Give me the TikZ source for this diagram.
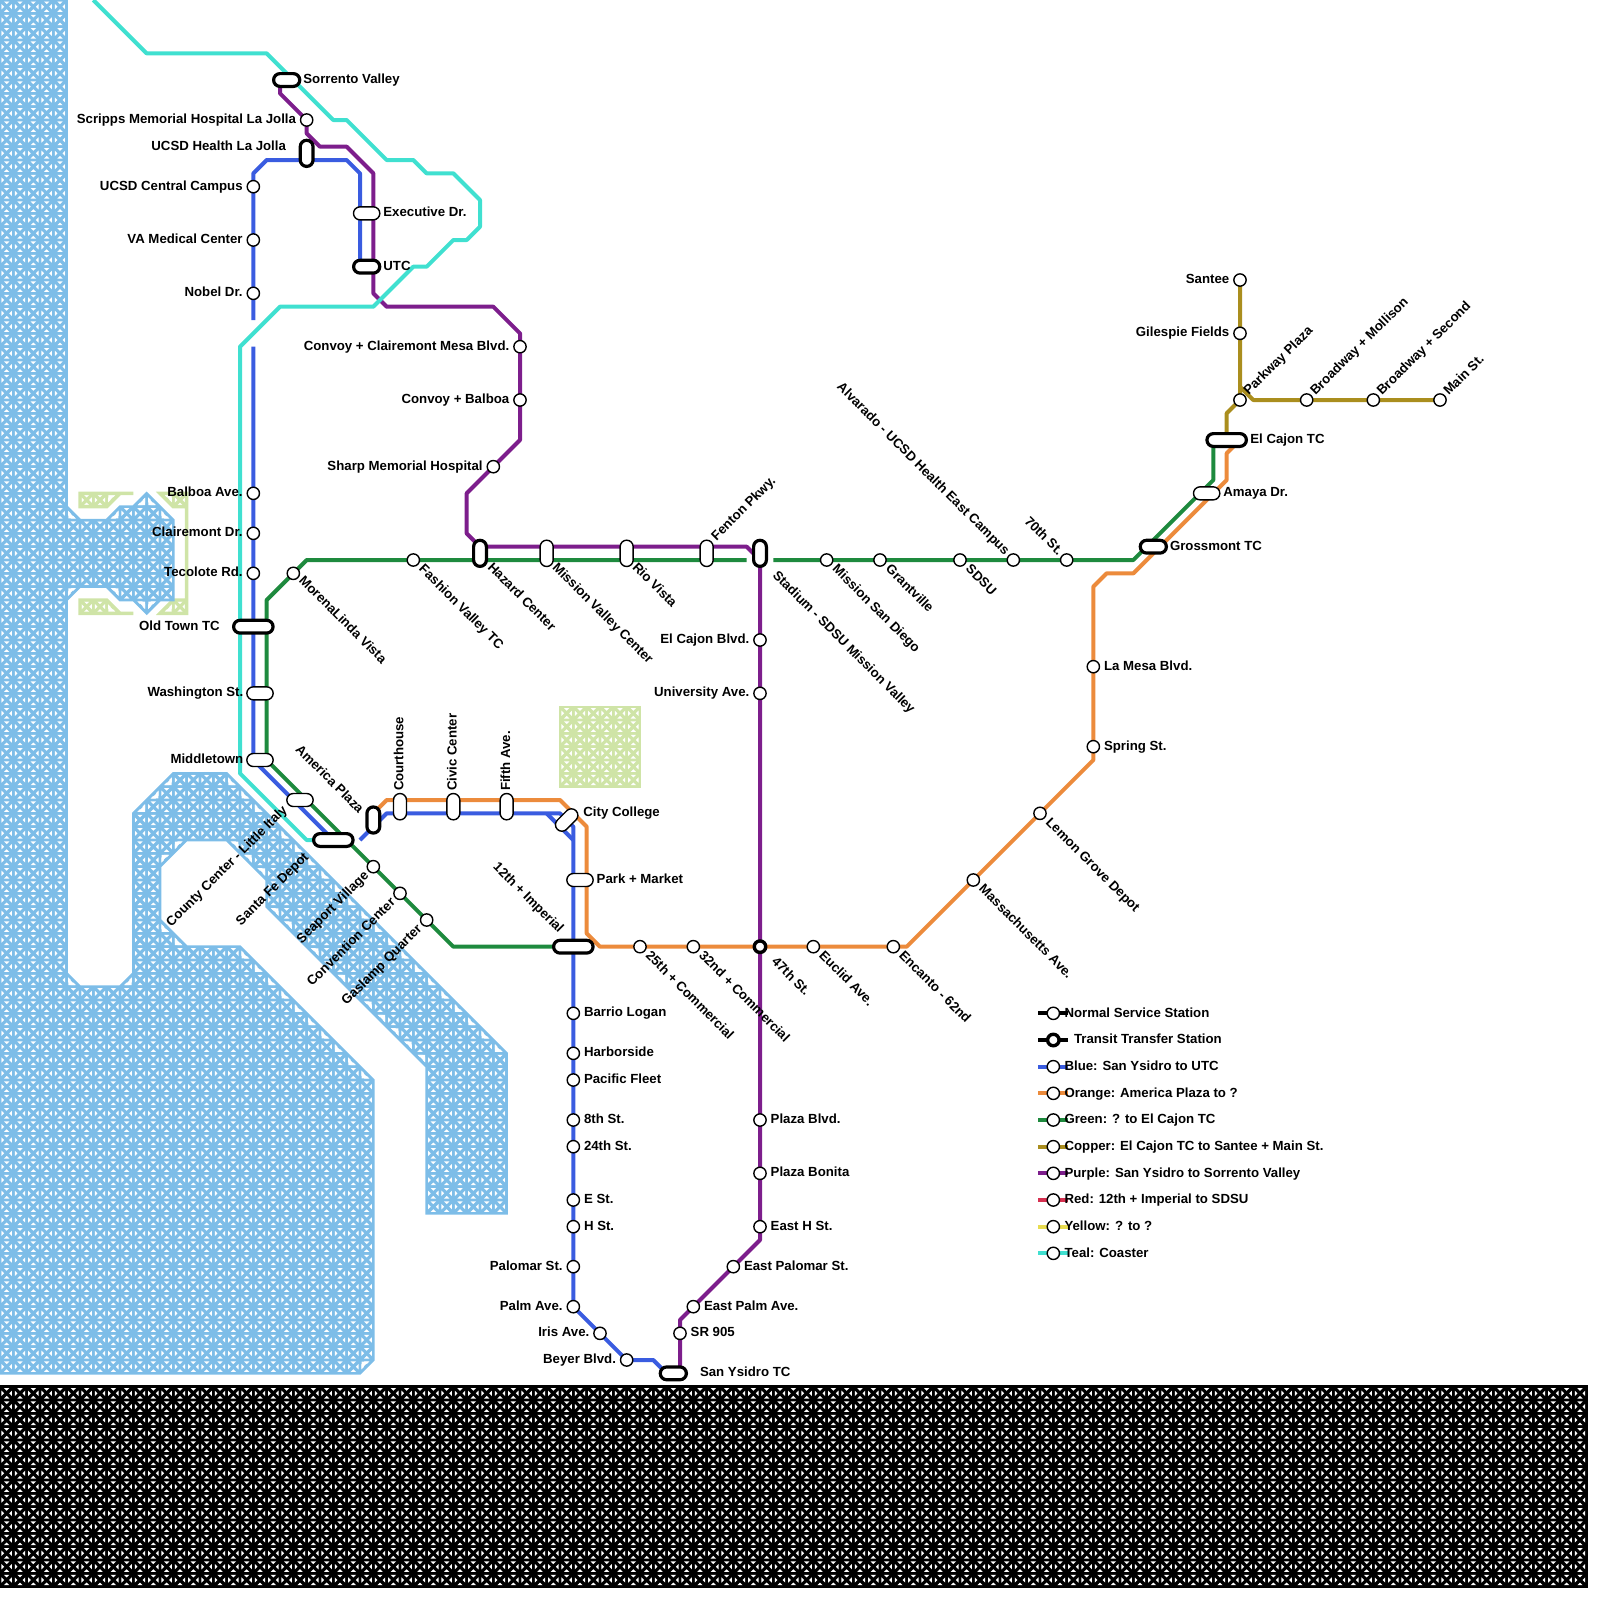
\documentclass[tikz,border=0pt]{standalone}
\usepackage{fontspec}
\setmainfont{Liberation Sans}
\pgfdeclarelayer{water}
\pgfdeclarelayer{lines}
\pgfsetlayers{water,lines,main}
\definecolor{cWater}{RGB}{125,189,232}
\definecolor{cLand}{RGB}{207,228,167}
\definecolor{cBlue}{RGB}{58,92,224}
\definecolor{cOrange}{RGB}{236,139,60}
\definecolor{cGreen}{RGB}{30,138,62}
\definecolor{cCopper}{RGB}{170,142,30}
\definecolor{cPurple}{RGB}{125,30,140}
\definecolor{cRed}{RGB}{214,48,80}
\definecolor{cYellow}{RGB}{232,220,80}
\definecolor{cTeal}{RGB}{64,224,208}
\tikzset{
  x=0.133333cm,y=-0.133333cm,
  stn/.style={circle,draw=black,fill=white,minimum size=0.123cm,inner sep=0pt,line width=0.014cm},
  xfer/.style={circle,draw=black,fill=white,minimum size=0.115cm,inner sep=0pt,line width=0.034cm},
  pillN/.style={rectangle,draw=black,fill=white,rounded corners=0.065cm,minimum height=0.13cm,minimum width=0.13cm+#1*0.13333cm,inner sep=0pt,line width=0.014cm},
  pillT/.style={rectangle,draw=black,fill=white,rounded corners=0.064cm,minimum height=0.128cm,minimum width=0.128cm+#1*0.13333cm,inner sep=0pt,line width=0.032cm},
  stlabel/.style={inner sep=0pt,text height=0.096cm,text depth=0.028cm,font=\fontsize{3.765pt}{4.6pt}\selectfont\bfseries},
  metro/.style={line width=0.04cm,line join=round,line cap=butt},
  halftri/.style={fill=white,draw=none},
  waterline/.style={draw=cWater,line width=0.025cm,line join=miter},
  landline/.style={draw=cLand,line width=0.034cm,line join=miter},
}
\newcommand\tiles[4]{%
  \foreach \i in {#1,...,#2}{\foreach \j in {#3,...,#4}{%
    \fill[white,shift={(\i+.5,\j+.5)}]
      (-.2,-.39)--(.2,-.39)--(0,-.19)--cycle
      (-.2,.39)--(.2,.39)--(0,.19)--cycle
      (-.39,-.2)--(-.39,.2)--(-.19,0)--cycle
      (.39,-.2)--(.39,.2)--(.19,0)--cycle;
  }}}
\newcommand\halfs[7]{%
  \foreach \k in {1,...,#3}{%
    \pgfmathsetmacro\ci{#1+(\k-1)*(#4)+.5}%
    \pgfmathsetmacro\cj{#2+(\k-1)*(#5)+.5}%
    \fill[halftri] (\ci+.38*#6,\cj+.38*#7)--(\ci+.38*#6,\cj-.14*#7)--(\ci-.14*#6,\cj+.38*#7)--cycle;
  }}
\newcommand\lab[6]{\node[stlabel,anchor=#4,rotate=#5] (l-#1) at ([xshift={(#2)*0.01cm},yshift={-1*(#3)*0.01cm}]#1.center) {#6};}
\newcommand\R[3][0]{\lab{#2}{#3}{#1}{west}{0}}
\newcommand\legrow[4]{%
  \coordinate (la#1) at (77.85,#2);\coordinate (lb#1) at (80.1,#2);
  \begin{pgfonlayer}{lines}\draw[metro,#3] (la#1)--(lb#1);\end{pgfonlayer}
  \node[stn] (lc#1) at (79,#2) {};
  \node[stlabel,anchor=west] (lt#1) at ([xshift=0.105cm,yshift=-0.005cm]lc#1.center) {#4};}
\begin{document}
\begin{tikzpicture}
\useasboundingbox (0,0) rectangle (120,120);
\begin{pgfonlayer}{water}
\def\landA{(6,37)--(10,37)--(9,37)--(8,38)--(6,38)--cycle}
\def\landB{(12,37)--(14,37)--(14,46)--(12,46)--(13,45)--(14,45)--(14,38)--(13,38)--cycle}
\def\landC{(6,45)--(8,45)--(9,46)--(10,46)--(6,46)--cycle}
\fill[cLand] \landA \landB \landC;
\begin{scope}\clip \landA \landB \landC;
  \tiles{6}{9}{37}{37}\tiles{6}{9}{45}{45}\tiles{12}{13}{37}{45}
\end{scope}
\halfs{8}{37}{1}{0}{0}{-1}{-1}\halfs{12}{37}{1}{0}{0}{1}{-1}\halfs{8}{45}{1}{0}{0}{-1}{1}\halfs{12}{45}{1}{0}{0}{1}{1}
\draw[landline] \landA \landB \landC;
\fill[cLand] (42,53) rectangle (48,59);
\tiles{42}{47}{53}{58}
\draw[landline,line width=0.02cm] (42,53) rectangle (48,59);
\def\seaMain{(0,0)--(5,0)--(5,73)--(6,74)--(9,74)--(10,73)--(10,61)--(13,58)--(17,58)--(38,79)--(38,91)--(32,91)--(32,80)--(20,68)--(20,66)--(17,63)--(14,63)--(12,65)--(12,69)--(14,71)--(18,71)--(28,81)--(28,102)--(27,103)--(0,103)--cycle}
\fill[cWater] \seaMain;
\begin{scope}\clip \seaMain;
  \tiles{0}{4}{0}{102}\tiles{5}{27}{58}{102}\tiles{28}{37}{69}{90}
\end{scope}
\halfs{5}{73}{1}{0}{0}{-1}{1}\halfs{9}{73}{1}{0}{0}{1}{1}
\halfs{10}{60}{3}{1}{-1}{1}{1}\halfs{17}{58}{21}{1}{1}{-1}{1}
\halfs{20}{68}{12}{1}{1}{1}{-1}\halfs{17}{63}{3}{1}{1}{1}{-1}
\halfs{13}{63}{2}{-1}{1}{-1}{-1}\halfs{12}{69}{2}{1}{1}{-1}{1}
\halfs{18}{71}{10}{1}{1}{-1}{1}\halfs{27}{102}{1}{0}{0}{-1}{-1}
\draw[waterline] \seaMain;
\def\seaBay{(5,38)--(6,39)--(8,39)--(9,38)--(10,38)--(11,37)--(13,39)--(13,45)--(12,45)--(11,46)--(10,45)--(9,45)--(8,44)--(6,44)--(5,45)--cycle}
\fill[cWater] \seaBay;
\begin{scope}\clip \seaBay;
  \tiles{5}{12}{37}{45}
\end{scope}
\halfs{5}{38}{1}{0}{0}{-1}{1}\halfs{8}{38}{1}{0}{0}{1}{1}\halfs{10}{37}{1}{0}{0}{1}{1}
\halfs{11}{37}{2}{1}{1}{-1}{1}\halfs{11}{45}{1}{0}{0}{-1}{-1}\halfs{10}{45}{1}{0}{0}{1}{-1}
\halfs{8}{44}{1}{0}{0}{1}{-1}\halfs{5}{44}{1}{0}{0}{-1}{-1}
\draw[waterline] \seaBay;
\filldraw[black,line width=0.025cm] (0,104) rectangle (119,119);
\tiles{0}{118}{104}{118}
\end{pgfonlayer}

% stations
\node[pillT=1] (sorrento) at (21.5,6) {};
\node[stn] (scripps) at (23,9) {};
\node[pillT=1,rotate=90] (ucsdhealth) at (23,11.5) {};
\node[stn] (central) at (19,14) {};
\node[stn] (va) at (19,18) {};
\node[stn] (nobel) at (19,22) {};
\node[pillN=1] (exec) at (27.5,16) {};
\node[pillT=1] (utc) at (27.5,20) {};
\node[stn] (convoya) at (39,26) {};
\node[stn] (convoyb) at (39,30) {};
\node[stn] (sharp) at (37,35) {};
\node[stn] (balboa) at (19,37) {};
\node[stn] (clair) at (19,40) {};
\node[stn] (teco) at (19,43) {};
\node[stn] (morena) at (22,43) {};
\node[pillT=2] (oldtown) at (19,47) {};
\node[pillN=1] (wash) at (19.5,52) {};
\node[pillN=1] (middle) at (19.5,57) {};
\node[pillN=1] (county) at (22.5,60) {};
\node[pillT=2] (santafe) at (25,63) {};
\node[pillT=1,rotate=90] (america) at (28,61.5) {};
\node[pillN=1,rotate=90] (court) at (30,60.5) {};
\node[pillN=1,rotate=90] (civic) at (34,60.5) {};
\node[pillN=1,rotate=90] (fifth) at (38,60.5) {};
\node[pillN=1,rotate=45] (college) at (42.5,61.5) {};
\node[pillN=1] (park) at (43.5,66) {};
\node[stn] (seaport) at (28,65) {};
\node[stn] (conv) at (30,67) {};
\node[stn] (gaslamp) at (32,69) {};
\node[pillT=2] (imperial) at (43,71) {};
\node[stn] (fashion) at (31,42) {};
\node[pillT=1,rotate=90] (hazard) at (36,41.5) {};
\node[pillN=1,rotate=90] (mvc) at (41,41.5) {};
\node[pillN=1,rotate=90] (rio) at (47,41.5) {};
\node[pillN=1,rotate=90] (fenton) at (53,41.5) {};
\node[pillT=1,rotate=90] (stadium) at (57,41.5) {};
\node[stn] (msd) at (62,42) {};
\node[stn] (grant) at (66,42) {};
\node[stn] (sdsu) at (72,42) {};
\node[stn] (alvarado) at (76,42) {};
\node[stn] (seventy) at (80,42) {};
\node[pillT=1] (gross) at (86.5,41) {};
\node[pillN=1] (amaya) at (90.5,37) {};
\node[pillT=2] (elcajon) at (92,33) {};
\node[stn] (parkway) at (93,30) {};
\node[stn] (santee) at (93,21) {};
\node[stn] (gilespie) at (93,25) {};
\node[stn] (mollison) at (98,30) {};
\node[stn] (second) at (103,30) {};
\node[stn] (mainst) at (108,30) {};
\node[stn] (lamesa) at (82,50) {};
\node[stn] (spring) at (82,56) {};
\node[stn] (lemon) at (78,61) {};
\node[stn] (mass) at (73,66) {};
\node[stn] (encanto) at (67,71) {};
\node[stn] (euclid) at (61,71) {};
\node[xfer] (fortyseven) at (57,71) {};
\node[stn] (thirtytwo) at (52,71) {};
\node[stn] (twentyfive) at (48,71) {};
\node[stn] (ecblvd) at (57,48) {};
\node[stn] (univ) at (57,52) {};
\node[stn] (plazab) at (57,84) {};
\node[stn] (bonita) at (57,88) {};
\node[stn] (easth) at (57,92) {};
\node[stn] (epalomar) at (55,95) {};
\node[stn] (epalm) at (52,98) {};
\node[stn] (sr) at (51,100) {};
\node[pillT=1] (ysidro) at (50.5,103) {};
\node[stn] (barrio) at (43,76) {};
\node[stn] (harbor) at (43,79) {};
\node[stn] (pacific) at (43,81) {};
\node[stn] (eighth) at (43,84) {};
\node[stn] (twentyfour) at (43,86) {};
\node[stn] (est) at (43,90) {};
\node[stn] (hst) at (43,92) {};
\node[stn] (palomar) at (43,95) {};
\node[stn] (palm) at (43,98) {};
\node[stn] (iris) at (45,100) {};
\node[stn] (beyer) at (47,102) {};

% free line ends
\coordinate (blueTop) at (19,24);
\coordinate (blueLow) at (19,26);
\coordinate (blueAm) at (27,63);
\coordinate (greenL) at (56,42);
\coordinate (greenR) at (58,42);
\coordinate (blueStub) at (41,61);
\coordinate (tealStart) at (7,0);

\begin{pgfonlayer}{lines}
\draw[metro,cOrange] (93,33)--(92,34)--(92,36)--(85,43)--(83,43)--(82,44)--(lamesa.center)--(spring.center)--(82,57)--(lemon.center)--(mass.center)--(68,71)--(encanto.center)--(euclid.center)--(fortyseven.center)--(thirtytwo.center)--(twentyfive.center)--(45,71)--(44,70)--(44,62)--(42,60)--(29,60)--(28,61);
\draw[metro,cGreen] (elcajon.center -| 91,0)--(91,36)--(85,42)--(seventy.center)--(alvarado.center)--(sdsu.center)--(grant.center)--(msd.center)--(greenR);
\draw[metro,cGreen] (greenL)--(23,42)--(20,45)--(20,57)--(seaport.center)--(conv.center)--(gaslamp.center)--(34,71)--(imperial.center);
\draw[metro,cCopper] (santee.center)--(gilespie.center)--(93,29)--(94,30)--(mollison.center)--(second.center)--(mainst.center);
\draw[metro,cCopper] (93,29)--(parkway.center)--(92,31)--(92,33);
\draw[metro,cPurple] (21,6)--(21,7)--(scripps.center)--(23,10)--(24,11)--(26,11)--(28,13)--(28,22)--(29,23)--(37,23)--(39,25)--(convoya.center)--(convoyb.center)--(39,33)--(sharp.center)--(35,37)--(35,40)--(36,41)--(56,41)--(57,42)--(ecblvd.center)--(univ.center)--(fortyseven.center)--(plazab.center)--(bonita.center)--(easth.center)--(57,93)--(epalomar.center)--(epalm.center)--(51,99)--(sr.center)--(51,103);
\draw[metro,cBlue] (blueTop)--(nobel.center)--(va.center)--(central.center)--(19,13)--(20,12)--(26,12)--(27,13)--(27,20);
\draw[metro,cBlue] (blueLow)--(balboa.center)--(clair.center)--(teco.center)--(oldtown.center)--(19,57)--(24,62)--(25,63);
\draw[metro,cBlue] (blueAm)--(29,61)--(42,61)--(43,62)--(imperial.center)--(barrio.center)--(harbor.center)--(pacific.center)--(eighth.center)--(twentyfour.center)--(est.center)--(hst.center)--(palomar.center)--(palm.center)--(iris.center)--(beyer.center)--(49,102)--(50,103);
\draw[metro,cBlue] (blueStub)--(43,63);
\draw[metro,cTeal] (tealStart)--(11,4)--(20,4)--(25,9)--(26,9)--(29,12)--(31,12)--(32,13)--(34,13)--(36,15)--(36,17)--(35,18)--(34,18)--(32,20)--(31,20)--(28,23)--(21,23)--(18,26)--(18,58)--(23,63)--(24,63);
\end{pgfonlayer}

% labels
\R{sorrento}{16}{Sorrento Valley}
\lab{scripps}{-10}{0}{east}{0}{Scripps Memorial Hospital La Jolla}
\lab{ucsdhealth}{-20}{-6}{east}{0}{UCSD Health La Jolla}
\lab{central}{-10}{0}{east}{0}{UCSD Central Campus}
\lab{va}{-10}{0}{east}{0}{VA Medical Center}
\lab{nobel}{-10}{0}{east}{0}{Nobel Dr.}
\R{exec}{16}{Executive Dr.}
\R{utc}{16}{UTC}
\lab{convoya}{-10}{0}{east}{0}{Convoy + Clairemont Mesa Blvd.}
\lab{convoyb}{-10}{0}{east}{0}{Convoy + Balboa}
\lab{sharp}{-10}{0}{east}{0}{Sharp Memorial Hospital}
\lab{balboa}{-10}{0}{east}{0}{Balboa Ave.}
\lab{clair}{-10}{0}{east}{0}{Clairemont Dr.}
\lab{teco}{-10}{0}{east}{0}{Tecolote Rd.}
\lab{morena}{7}{5}{west}{-45}{MorenaLinda Vista}
\lab{oldtown}{-33}{0.5}{east}{0}{Old Town TC}
\lab{wash}{-16}{0}{east}{0}{Washington St.}
\lab{middle}{-16}{0}{east}{0}{Middletown}
\lab{county}{-14}{8}{east}{45}{County Center - Little Italy}
\lab{santafe}{-26}{15}{east}{45}{Santa Fe Depot}
\lab{america}{-12}{-8}{east}{-45}{America Plaza}
\lab{court}{0}{-15}{west}{90}{Courthouse}
\lab{civic}{0}{-15}{west}{90}{Civic Center}
\lab{fifth}{0}{-15}{west}{90}{Fifth Ave.}
\lab{college}{16}{-7}{west}{0}{City College}
\R{park}{16}{Park + Market}
\lab{seaport}{-6}{7}{east}{45}{Seaport Village}
\lab{conv}{-6}{7}{east}{45}{Convention Center}
\lab{gaslamp}{-6}{7}{east}{45}{Gaslamp Quarter}
\lab{imperial}{-12}{-15}{east}{-45}{12th + Imperial}
\lab{fashion}{7}{7}{west}{-45}{Fashion Valley TC}
\lab{hazard}{9}{12}{west}{-45}{Hazard Center}
\lab{mvc}{7}{12}{west}{-45}{Mission Valley Center}
\lab{rio}{7}{12}{west}{-45}{Rio Vista}
\lab{fenton}{7}{-14}{west}{45}{Fenton Pkwy.}
\lab{stadium}{14}{20}{west}{-45}{Stadium - SDSU Mission Valley}
\lab{msd}{7}{7}{west}{-45}{Mission San Diego}
\lab{grant}{7}{7}{west}{-45}{Grantville}
\lab{sdsu}{7}{7}{west}{-45}{SDSU}
\lab{alvarado}{-6}{-6}{east}{-45}{Alvarado - UCSD Health East Campus}
\lab{seventy}{-6}{-6}{east}{-45}{70th St.}
\R{gross}{16}{Grossmont TC}
\R{amaya}{16}{Amaya Dr.}
\R{elcajon}{23}{El Cajon TC}
\lab{parkway}{6}{-6}{west}{45}{Parkway Plaza}
\lab{santee}{-10}{0}{east}{0}{Santee}
\lab{gilespie}{-10}{0}{east}{0}{Gilespie Fields}
\lab{mollison}{6}{-6}{west}{45}{Broadway + Mollison}
\lab{second}{6}{-6}{west}{45}{Broadway + Second}
\lab{mainst}{6}{-6}{west}{45}{Main St.}
\R{lamesa}{10}{La Mesa Blvd.}
\R{spring}{10}{Spring St.}
\lab{lemon}{7}{7}{west}{-45}{Lemon Grove Depot}
\lab{mass}{7}{7}{west}{-45}{Massachusetts Ave.}
\lab{encanto}{7}{7}{west}{-45}{Encanto - 62nd}
\lab{euclid}{7}{7}{west}{-45}{Euclid Ave.}
\lab{fortyseven}{13}{13}{west}{-45}{47th St.}
\lab{thirtytwo}{7}{7}{west}{-45}{32nd + Commercial}
\lab{twentyfive}{7}{7}{west}{-45}{25th + Commercial}
\lab{ecblvd}{-10}{0}{east}{0}{El Cajon Blvd.}
\lab{univ}{-10}{0}{east}{0}{University Ave.}
\R{plazab}{10}{Plaza Blvd.}
\R{bonita}{10}{Plaza Bonita}
\R{easth}{10}{East H St.}
\R{epalomar}{10}{East Palomar St.}
\R{epalm}{10}{East Palm Ave.}
\R{sr}{10}{SR 905}
\R{ysidro}{26}{San Ysidro TC}
\R{barrio}{10}{Barrio Logan}
\R{harbor}{10}{Harborside}
\R{pacific}{10}{Pacific Fleet}
\R{eighth}{10}{8th St.}
\R{twentyfour}{10}{24th St.}
\R{est}{10}{E St.}
\R{hst}{10}{H St.}
\lab{palomar}{-10}{0}{east}{0}{Palomar St.}
\lab{palm}{-10}{0}{east}{0}{Palm Ave.}
\lab{iris}{-10}{0}{east}{0}{Iris Ave.}
\lab{beyer}{-10}{0}{east}{0}{Beyer Blvd.}

% legend
\legrow{a}{76}{black}{Normal Service Station}
\coordinate (lab) at (77.85,78);\coordinate (lbb) at (80.1,78);
\begin{pgfonlayer}{lines}\draw[metro,black] (lab)--(lbb);\end{pgfonlayer}
\node[xfer] (lcb) at (79,78) {};
\node[stlabel,anchor=west] (ltb) at ([xshift=0.2cm,yshift=-0.005cm]lcb.center) {Transit Transfer Station};
\legrow{c}{80}{cBlue}{Blue: San Ysidro to UTC}
\legrow{d}{82}{cOrange}{Orange: America Plaza to ?}
\legrow{e}{84}{cGreen}{Green: ? to El Cajon TC}
\legrow{f}{86}{cCopper}{Copper: El Cajon TC to Santee + Main St.}
\legrow{g}{88}{cPurple}{Purple: San Ysidro to Sorrento Valley}
\legrow{h}{90}{cRed}{Red: 12th + Imperial to SDSU}
\legrow{i}{92}{cYellow}{Yellow: ? to ?}
\legrow{j}{94}{cTeal}{Teal: Coaster}
\end{tikzpicture}
\end{document}
